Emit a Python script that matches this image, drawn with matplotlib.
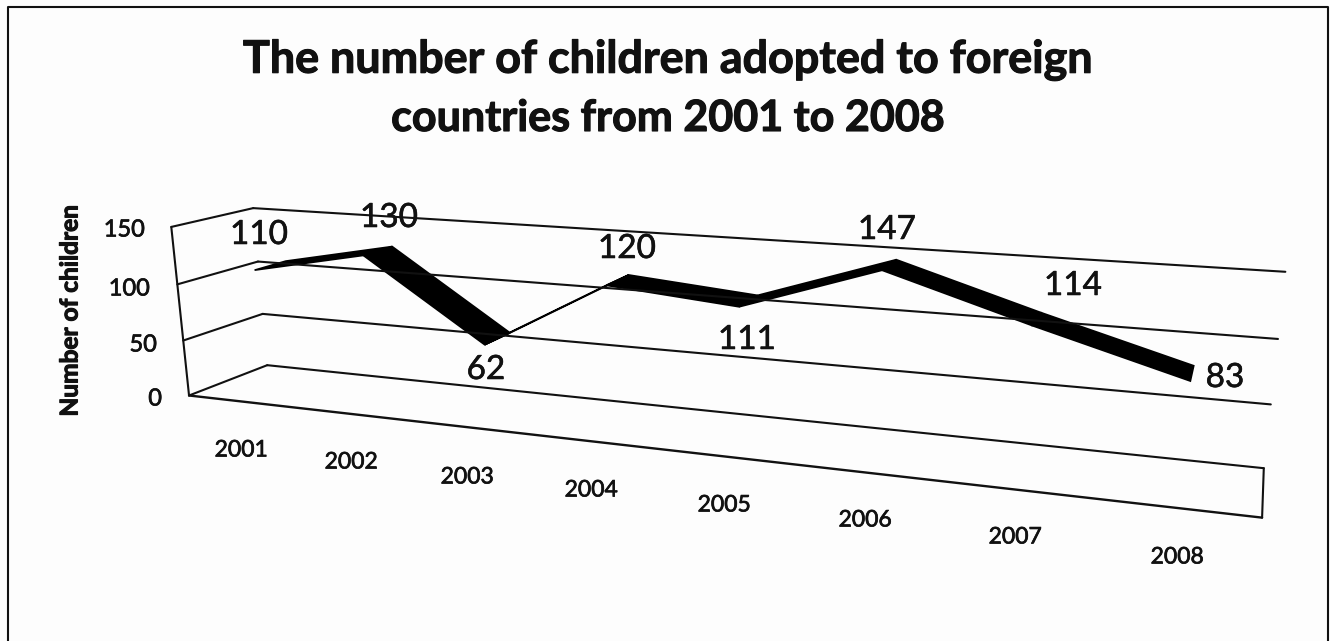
#!/usr/bin/env python3
"""3D style line chart: children adopted to foreign countries 2001-2008"""

import matplotlib
matplotlib.use("Agg")
import matplotlib.patheffects as pe
import matplotlib.pyplot as plt
import numpy as np

WIDTH, HEIGHT = 1330, 641

# data
years = ["2001", "2002", "2003", "2004", "2005", "2006", "2007", "2008"]
children = [110, 130, 62, 120, 111, 147, 114, 83]
y_ticks = [0, 50, 100, 150]

# where the labels sit on the page (pixels)
value_label_pos = [(259, 235), (389, 218), (486, 370), (627, 249),
                   (747, 340), (887, 230), (1073, 286), (1225, 378)]
year_label_pos = [(241, 450), (351, 462), (467, 477), (591, 490),
                  (724, 505), (865, 520), (1015, 537), (1177, 557)]
tick_label_right = [162, 157, 150, 145]
tick_label_y = [399, 345, 289, 230]

# box corners on the page, (x, value, depth) -> (px, py), used to fit the camera
calib_3d = [(0, 0, 0), (0, 150, 0), (0, 50, 0), (0, 100, 0),
            (0, 0, 1), (0, 50, 1), (0, 100, 1), (0, 150, 1),
            (1, 0, 1), (1, 50, 1), (1, 100, 1), (1, 150, 1),
            (1, 0, 0)]
calib_px = [(189, 396), (172, 227), (183, 340), (177, 284),
            (268, 365), (262, 314), (258, 262), (253, 208),
            (1263, 468), (1272, 404), (1278, 339), (1285, 272),
            (1262, 518)]

RIBBON_FRONT, RIBBON_BACK = 0.30, 0.70
FONT = ["Lato", "DejaVu Sans"]
INK = "#111111"
PAPER = "#fdfdfd"


def fit_camera():
    rows, rhs = [], []
    for (x, v, z), (px, py) in zip(calib_3d, calib_px):
        rows.append([x, v, z, 1, 0, 0, 0, 0, -px * x, -px * v, -px * z])
        rhs.append(px)
        rows.append([0, 0, 0, 0, x, v, z, 1, -py * x, -py * v, -py * z])
        rhs.append(py)
    sol = np.linalg.lstsq(np.array(rows, dtype=float), np.array(rhs, dtype=float), rcond=None)[0]
    return np.append(sol, 1.0).reshape(3, 4)


CAMERA = fit_camera()


def project(x, v, z):
    h = CAMERA @ np.array([x, v, z, 1.0])
    return h[0] / h[2], h[1] / h[2]


def box_line(ax, start, end, lw=1.5):
    a = project(*start)
    b = project(*end)
    ax.plot([a[0], b[0]], [a[1], b[1]], color=INK, lw=lw, solid_capstyle="round")


def heavy(width):
    # the scan makes every glyph fatter than the regular weight
    return [pe.withStroke(linewidth=width, foreground=INK)]


def main():
    fig = plt.figure(figsize=(WIDTH / 100, HEIGHT / 100), dpi=100, facecolor=PAPER)
    ax = fig.add_axes([0, 0, 1, 1])
    ax.set_xlim(0, WIDTH)
    ax.set_ylim(HEIGHT, 0)
    ax.axis("off")

    # outer frame, open at the bottom
    ax.plot([8, 8, 1328, 1328], [641, 7, 7, 641], color=INK, lw=1.5)

    # gridlines on back and left wall
    for tick in y_ticks:
        box_line(ax, (0, tick, 0), (0, tick, 1))
        box_line(ax, (0, tick, 1), (1, tick, 1))
    box_line(ax, (0, 0, 0), (0, 150, 0))
    box_line(ax, (0, 0, 0), (1, 0, 0), lw=1.7)
    box_line(ax, (1, 0, 0), (1, 0, 1))

    # the ribbon, one quad per segment
    xs = [(i + 0.5) / len(years) for i in range(len(years))]
    for i in range(len(years) - 1):
        corners = [project(xs[i], children[i], RIBBON_FRONT),
                   project(xs[i + 1], children[i + 1], RIBBON_FRONT),
                   project(xs[i + 1], children[i + 1], RIBBON_BACK),
                   project(xs[i], children[i], RIBBON_BACK)]
        ax.fill([c[0] for c in corners], [c[1] for c in corners], color="black", lw=1.2)

    # texts
    ax.text(667, 60, "The number of children adopted to foreign", family=FONT, fontsize=32.3,
            fontweight="bold", ha="center", va="center", color=INK, path_effects=heavy(0.8))
    ax.text(668, 118, "countries from 2001 to 2008", family=FONT, fontsize=31,
            fontweight="bold", ha="center", va="center", color=INK, path_effects=heavy(0.8))
    ax.text(70, 311, "Number of children", family=FONT, fontsize=17.6, fontweight="bold",
            rotation=90, ha="center", va="center", color=INK, path_effects=heavy(0.8))

    for tick, right, y in zip(y_ticks, tick_label_right, tick_label_y):
        ax.text(right, y, str(tick), family=FONT, fontsize=17, ha="right", va="center",
                color=INK, path_effects=heavy(0.5))
    for year, (x, y) in zip(years, year_label_pos):
        ax.text(x, y, year, family=FONT, fontsize=16.5, ha="center", va="center",
                color=INK, path_effects=heavy(0.5))
    for val, (x, y) in zip(children, value_label_pos):
        ax.text(x, y, str(val), family=FONT, fontsize=24, ha="center", va="center",
                color=INK, path_effects=heavy(0.4))

    fig.savefig("out.png", dpi=100, facecolor=PAPER)
    plt.close(fig)


if __name__ == "__main__":
    main()
